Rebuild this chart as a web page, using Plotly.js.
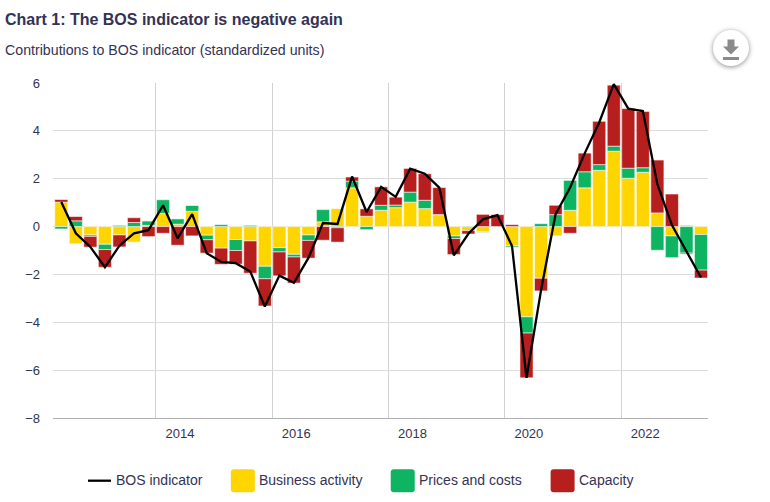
<!DOCTYPE html>
<html>
<head>
<meta charset="utf-8">
<script src="https://cdn.plot.ly/plotly-3.0.0.min.js"></script>
<style>
html,body{margin:0;padding:0;background:#fff;}
#chart{width:770px;height:502px;}
#dl{position:absolute;left:713px;top:30px;width:36px;height:36px;border-radius:50%;background:#fff;box-shadow:0 1px 5px rgba(0,0,0,.45);}
</style>
</head>
<body>
<div id="chart"></div>
<div id="dl"><svg width="36" height="36" viewBox="0 0 36 36"><path d="M14.5 9.5h7v7h4.5L18 24.5 10 16.500h4.500z" fill="#8a8a8a"/><rect x="10" y="27" width="16" height="3" fill="#8a8a8a"/></svg></div>
<script>
const quarters = [
 2012,2012.25,2012.5,2012.75,2013,2013.25,2013.5,2013.75,
 2014,2014.25,2014.5,2014.75,2015,2015.25,2015.5,2015.75,
 2016,2016.25,2016.5,2016.75,2017,2017.25,2017.5,2017.75,
 2018,2018.25,2018.5,2018.75,2019,2019.25,2019.5,2019.75,
 2020,2020.25,2020.5,2020.75,2021,2021.25,2021.5,2021.75,
 2022,2022.25,2022.5,2022.75,2023];
const bosIndicator = [
 1.03,-0.28,-0.85,-1.70,-0.80,-0.28,-0.15,0.89,
 -0.49,0.52,-1.11,-1.48,-1.53,-1.88,-3.34,-2.05,
 -2.35,-1.31,0.15,0.11,2.09,0.61,1.66,1.24,
 2.42,2.21,1.63,-1.20,-0.30,0.30,0.48,-0.81,
 -6.32,-2.65,0.52,1.63,3.06,4.35,5.95,4.93,
 4.83,1.77,0.06,-1.05,-2.13];
const businessActivity = [
 1.02,-0.72,-0.35,-0.74,-0.35,-0.65,0.05,0.55,
 0.10,0.64,-0.36,-0.90,-0.54,-0.60,-1.66,-0.88,
 -1.16,-0.35,0.20,0.75,1.62,0.43,0.68,0.79,
 1.02,0.75,0.50,-0.39,-0.17,-0.21,0.00,-0.81,
 -3.77,-2.16,-0.39,0.68,1.62,2.35,3.15,2.02,
 2.27,0.57,-0.39,0.06,-0.33];
const pricesAndCosts = [
 -0.10,0.24,-0.06,-0.22,0.05,0.17,0.18,0.57,
 0.22,0.24,-0.19,0.08,-0.46,0.05,-0.52,-0.18,
 -0.11,-0.23,0.51,-0.05,0.28,-0.13,0.21,0.11,
 0.42,0.35,0.00,-0.11,0.02,-0.03,0.00,-0.05,
 -0.68,0.12,0.50,1.25,0.67,0.24,0.21,0.42,
 0.19,-0.99,-0.91,-1.11,-1.49];
const capacity = [
 0.11,0.18,-0.45,-0.74,-0.50,0.20,-0.42,-0.28,
 -0.78,-0.39,-0.56,-0.68,-0.57,-1.35,-1.14,-1.00,
 -1.09,-0.74,-0.57,-0.60,0.17,0.31,0.77,0.33,
 0.99,1.11,1.13,-0.67,-0.14,0.51,0.50,0.08,
 -1.87,-0.53,0.39,-0.28,0.78,1.81,2.55,2.49,
 2.35,2.21,1.36,-0.04,-0.33];
const gridPositions = [2013.625,2015.625,2017.625,2019.625,2021.625];
const labelPositions = [2014.04,2016.04,2018.04,2020.04,2022.04];
const yearLabels = ["2014","2016","2018","2020","2022"];
const yTicks = [-8,-6,-4,-2,0,2,4,6];
const seriesNames = ["BOS indicator","Business activity","Prices and costs","Capacity"];
const seriesColors = ["#000000","#FFD500","#0FB463","#B71E1E"];

const ink = "#333355";
const font = "'Liberation Sans', Arial, sans-serif";
const L = 53, R = 708.5, T = 83.3, B = 418.3;
const W = R - L, H = B - T;
const px = x => (x - L) / W;
const py = y => (B - y) / H;
const xRange = [2011.8575,2023.1205];

function bar(values, idx){
  return {type:"bar", x:quarters, y:values, name:seriesNames[idx], showlegend:false,
    marker:{color:seriesColors[idx], line:{color:"rgba(255,255,255,0.55)", width:1}},
    hoverinfo:"skip"};
}
const traces = [
  bar(businessActivity,1), bar(pricesAndCosts,2), bar(capacity,3),
  {type:"scatter", mode:"lines", x:quarters, y:bosIndicator, xaxis:"x2", yaxis:"y", name:seriesNames[0], showlegend:false,
   line:{color:seriesColors[0], width:2.3}, hoverinfo:"skip"}
];

function roundRect(x0,y0,x1,y1,r){
  const rx = r / W, ry = r / H;
  const a = px(x0), b = px(x1), t = py(y0), u = py(y1);
  return `M${a+rx},${u} L${b-rx},${u} Q${b},${u} ${b},${u+ry} L${b},${t-ry} Q${b},${t} ${b-rx},${t} L${a+rx},${t} Q${a},${t} ${a},${t-ry} L${a},${u+ry} Q${a},${u} ${a+rx},${u} Z`;
}
const legendY = 481;
const swatchX = [231,391,551];
const labelX = [114,257,417,577];
const shapes = [
  {type:"line", xref:"paper", yref:"paper", x0:px(88), x1:px(111), y0:py(legendY), y1:py(legendY),
   line:{color:seriesColors[0], width:2.3}}
];
swatchX.forEach((x,i)=>shapes.push({type:"path", xref:"paper", yref:"paper",
   path:roundRect(x,legendY-11.5,x+24,legendY+11.5,3), fillcolor:seriesColors[i+1], line:{width:0}}));
const annotations = [
  {xref:"paper", yref:"paper", x:px(3), y:py(50), xanchor:"left", yanchor:"middle", showarrow:false,
   text:"Contributions to BOS indicator (standardized units)", font:{family:font, size:14.2, color:ink}}
];
labelX.forEach((x,i)=>annotations.push({xref:"paper", yref:"paper", x:px(x), y:py(legendY-1), xanchor:"left", yanchor:"middle",
   showarrow:false, text:seriesNames[i], font:{family:font, size:14, color:ink}}));

const layout = {
  width:770, height:502,
  margin:{l:L, r:770-R, t:T, b:502-B, pad:0},
  paper_bgcolor:"#fff", plot_bgcolor:"#fff",
  font:{family:font, size:14, color:ink},
  title:{text:"<b>Chart 1: The BOS indicator is negative again</b>", x:5/770, xref:"container", xanchor:"left",
         y:1-19/502, yref:"container", yanchor:"middle", font:{family:font, size:16, color:ink}},
  barmode:"relative", bargap:0.1,
  showlegend:false,
  xaxis:{type:"linear", range:xRange, tickmode:"array", tickvals:gridPositions, showticklabels:false, ticks:"",
         showgrid:true, gridcolor:"#d2d2d2", gridwidth:1, zeroline:false, showline:true, linecolor:"#b0b0b0", linewidth:1},
  xaxis2:{type:"linear", overlaying:"x", anchor:"y", side:"bottom", range:xRange, tickmode:"array",
          tickvals:labelPositions, ticktext:yearLabels, ticklabelstandoff:6, ticks:"", showgrid:false, zeroline:false,
          showline:false, tickfont:{family:font,size:13,color:ink}},
  yaxis:{range:[-8,6], tickmode:"array", tickvals:yTicks, ticks:"", showgrid:true, gridcolor:"#dcdcdc", gridwidth:1,
         zeroline:false, showline:false, ticklabelstandoff:12, tickfont:{family:font,size:13,color:ink}},
  shapes, annotations
};
Plotly.newPlot("chart", traces, layout, {displayModeBar:false, staticPlot:true});
</script>
</body>
</html>
